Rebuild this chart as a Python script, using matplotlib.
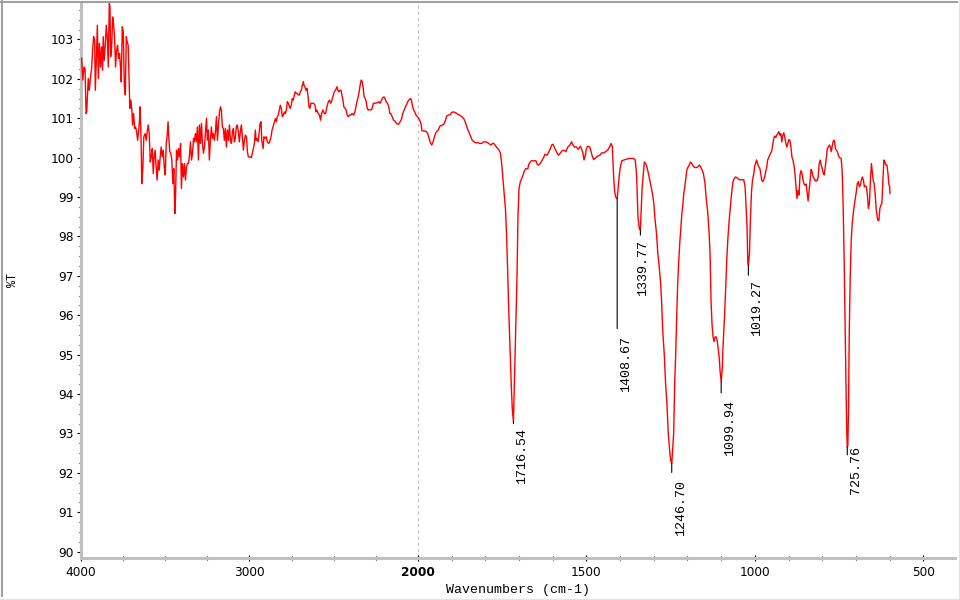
import numpy as np
import matplotlib
matplotlib.use("Agg")
import matplotlib.pyplot as plt
from matplotlib.lines import Line2D

# ---------------- data (wavenumber cm-1, %T) ----------------
wn_a = [3999, 3996, 3990, 3982, 3976, 3970, 3966, 3962, 3957, 3951, 3943, 3937, 3931, 3925, 3919, 3915,
        3909, 3903, 3897, 3891, 3884, 3878, 3872, 3868, 3862, 3856, 3850, 3844, 3838, 3832, 3828, 3824,
        3818, 3812, 3807, 3801, 3795, 3789, 3783, 3777, 3771, 3767, 3761, 3755, 3749, 3743, 3737, 3731,
        3726, 3720, 3714, 3710, 3704, 3698, 3694, 3688, 3682, 3676, 3670, 3664, 3658, 3652, 3649, 3643,
        3639, 3633, 3627, 3619, 3613, 3607, 3601, 3595, 3589, 3583, 3577, 3571, 3566, 3560, 3554, 3548,
        3542, 3536, 3530, 3524, 3518, 3512, 3506, 3500, 3494, 3489, 3483, 3479, 3473, 3467, 3461, 3455,
        3449, 3443, 3439, 3433, 3427, 3421, 3415, 3409, 3404, 3398, 3392, 3386, 3380, 3374, 3368, 3362,
        3356, 3350, 3344, 3338, 3332, 3327, 3321, 3315, 3309, 3303, 3297, 3291, 3285, 3279, 3273, 3267,
        3261, 3255, 3250, 3244, 3238, 3232, 3226, 3220, 3214, 3208, 3202, 3196, 3190, 3184, 3178, 3172,
        3167, 3161, 3155, 3149, 3143, 3137, 3131, 3125, 3119, 3113, 3107, 3101, 3095, 3090, 3084, 3078,
        3072, 3066, 3060, 3054, 3048, 3042, 3036, 3030, 3024, 3018, 3012, 3007]
t_a = [102.52, 102.52, 101.97, 102.30, 102.26, 101.12, 101.16, 101.54, 102.01, 101.71, 102.05, 102.26, 102.73, 103.07, 102.98, 101.71,
       102.47, 103.36, 102.01, 102.90, 102.30, 102.81, 102.22, 103.07, 102.47, 102.85, 103.36, 103.07, 102.30, 103.91, 103.83, 102.56,
       102.81, 103.57, 103.40, 103.07, 102.30, 102.73, 102.85, 102.52, 102.64, 102.39, 101.92, 103.32, 103.19, 101.84, 101.59, 103.07,
       102.94, 102.85, 101.92, 101.25, 101.46, 101.21, 100.83, 101.12, 100.74, 100.78, 100.66, 100.44, 100.66, 101.00, 101.29, 100.36,
       99.34, 99.72, 100.53, 100.61, 100.44, 100.66, 100.83, 100.61, 99.89, 100.02, 100.23, 99.60, 100.02, 100.19, 99.77, 99.43,
       99.94, 99.68, 100.02, 100.27, 100.02, 100.19, 99.77, 99.56, 100.36, 100.53, 100.91, 100.53, 100.15, 100.11, 99.94, 99.34,
       99.72, 98.58, 99.00, 100.19, 99.94, 100.23, 100.02, 100.36, 99.22, 99.85, 99.51, 99.85, 99.43, 99.77, 99.85, 99.85,
       100.06, 100.40, 99.94, 100.11, 100.49, 100.40, 100.61, 100.40, 100.78, 99.94, 100.83, 100.36, 100.87, 100.36, 100.11, 100.27,
       100.66, 101.00, 100.44, 100.70, 99.94, 100.44, 100.78, 100.49, 100.61, 100.44, 100.66, 101.04, 100.44, 100.83, 101.16, 101.29,
       101.21, 100.78, 100.74, 100.44, 100.74, 100.27, 100.70, 100.44, 100.83, 100.44, 100.36, 100.66, 100.74, 100.40, 100.49, 100.78,
       100.83, 100.66, 100.40, 100.66, 100.83, 100.53, 100.19, 100.44, 100.57, 100.53, 100.15, 100.02]

wn_b = [2998, 2989, 2979, 2971, 2965, 2961, 2955, 2949, 2943, 2937, 2931, 2927, 2919, 2914, 2908, 2900,
        2894, 2886, 2880, 2872, 2866, 2860, 2852, 2846, 2840, 2835, 2829, 2823, 2817, 2811, 2805, 2799,
        2793, 2787, 2781, 2775, 2769, 2763, 2758, 2752, 2746, 2740, 2734, 2728, 2722, 2716, 2710, 2704,
        2698, 2692, 2686, 2680, 2677, 2671, 2665, 2659, 2653, 2647, 2641, 2635, 2627, 2619, 2611, 2605,
        2600, 2592, 2584, 2578, 2572, 2564, 2556, 2548, 2540, 2532, 2524, 2519, 2513, 2505, 2497, 2489,
        2481, 2475, 2469, 2463, 2457, 2451, 2445, 2440, 2432, 2426, 2420, 2414, 2406, 2398, 2390, 2382,
        2374, 2368, 2362, 2355, 2349, 2343, 2337, 2331, 2325, 2319, 2313, 2307, 2301, 2295, 2287, 2280,
        2272, 2264, 2256, 2248, 2240, 2232, 2224, 2216, 2208, 2201, 2195, 2189, 2181, 2173, 2167, 2161,
        2153, 2145, 2137, 2130, 2122, 2114, 2106, 2098, 2090, 2082, 2074, 2066, 2058, 2050, 2045, 2039,
        2033, 2027, 2019, 2011, 2003]
t_b = [100.02, 100.00, 100.19, 100.36, 100.70, 100.44, 100.49, 100.40, 100.61, 100.87, 100.91, 100.44, 100.23, 100.53, 100.49, 100.53,
       100.40, 100.36, 100.40, 100.53, 100.70, 100.78, 100.91, 100.99, 100.91, 101.04, 101.08, 101.21, 101.33, 101.25, 101.04, 101.08,
       101.16, 101.12, 101.21, 101.42, 101.38, 101.29, 101.25, 101.33, 101.50, 101.46, 101.59, 101.67, 101.63, 101.63, 101.59, 101.59,
       101.67, 101.71, 101.84, 101.93, 101.84, 101.80, 101.71, 101.76, 101.59, 101.29, 101.25, 101.38, 101.38, 101.38, 101.33, 101.16,
       101.21, 101.12, 101.08, 100.95, 101.12, 101.21, 101.12, 101.12, 101.29, 101.42, 101.46, 101.38, 101.42, 101.54, 101.67, 101.71,
       101.80, 101.71, 101.67, 101.71, 101.71, 101.59, 101.46, 101.29, 101.25, 101.21, 101.08, 101.04, 101.08, 101.08, 101.12, 101.08,
       101.16, 101.29, 101.42, 101.54, 101.67, 101.84, 101.97, 101.93, 101.76, 101.54, 101.50, 101.42, 101.25, 101.21, 101.22, 101.21,
       101.25, 101.38, 101.38, 101.39, 101.39, 101.42, 101.38, 101.46, 101.53, 101.54, 101.50, 101.42, 101.38, 101.29, 101.12, 101.12,
       101.04, 100.95, 100.93, 100.88, 100.85, 100.85, 100.91, 100.97, 101.12, 101.21, 101.29, 101.36, 101.44, 101.48, 101.50, 101.46,
       101.33, 101.22, 101.16, 101.08, 101.04]

wn_c = [1998, 1995, 1991, 1988, 1981, 1975, 1971, 1967, 1963, 1959, 1955, 1951, 1947, 1943, 1939, 1935,
        1929, 1923, 1919, 1915, 1910, 1904, 1900, 1894, 1888, 1882, 1876, 1870, 1864, 1860, 1856, 1852,
        1848, 1844, 1840, 1834, 1828, 1822, 1817, 1811, 1805, 1799, 1793, 1787, 1783, 1779, 1775, 1771,
        1767, 1763, 1759, 1755, 1751, 1745, 1740, 1737, 1734, 1731, 1728, 1725, 1723, 1720, 1716.54, 1715,
        1712, 1709, 1706, 1703, 1700, 1696, 1690, 1684, 1680, 1674, 1670, 1664, 1656, 1650, 1646, 1642,
        1637, 1631, 1627, 1623, 1617, 1613, 1607, 1603, 1599, 1595, 1589, 1583, 1577, 1573, 1567, 1561,
        1555, 1549, 1544, 1540, 1536, 1530, 1524, 1518, 1514, 1510, 1507, 1504, 1500, 1496, 1490, 1486,
        1482, 1478, 1472, 1466, 1460, 1455, 1449, 1443, 1437, 1431, 1427, 1423, 1419, 1416, 1413, 1408.67,
        1406, 1403, 1400, 1397, 1395, 1389, 1381, 1373, 1366, 1360, 1355, 1351, 1347, 1343, 1339.77, 1337,
        1335, 1332]
t_c = [101.00, 100.95, 100.87, 100.68, 100.68, 100.66, 100.61, 100.49, 100.38, 100.32, 100.40, 100.53, 100.63, 100.67, 100.71, 100.80,
       100.82, 100.85, 100.93, 101.05, 101.08, 101.09, 101.15, 101.16, 101.14, 101.10, 101.08, 101.04, 100.99, 100.91, 100.82, 100.71,
       100.63, 100.55, 100.46, 100.40, 100.38, 100.38, 100.36, 100.36, 100.40, 100.40, 100.38, 100.34, 100.32, 100.36, 100.36, 100.32,
       100.27, 100.23, 100.19, 100.11, 99.80, 99.17, 98.67, 98.03, 97.23, 96.26, 95.50, 94.82, 94.23, 93.63, 93.30, 93.84,
       94.86, 95.96, 96.98, 98.54, 99.22, 99.39, 99.51, 99.67, 99.72, 99.72, 99.85, 99.92, 99.92, 99.92, 99.83, 99.81,
       99.85, 99.94, 100.00, 100.09, 100.06, 100.12, 100.23, 100.32, 100.34, 100.26, 100.15, 100.06, 100.12, 100.17, 100.19, 100.15,
       100.27, 100.32, 100.40, 100.33, 100.27, 100.27, 100.21, 100.29, 100.21, 100.11, 99.94, 100.02, 100.23, 100.29, 100.27, 100.15,
       100.02, 99.95, 100.00, 100.04, 100.06, 100.12, 100.12, 100.15, 100.19, 100.27, 100.36, 100.28, 99.47, 99.13, 99.00, 98.96,
       99.20, 99.50, 99.72, 99.85, 99.92, 99.94, 99.96, 99.98, 99.98, 99.98, 99.94, 99.56, 98.50, 98.20, 98.16, 98.75,
       99.17, 99.50]

wn_d = [1328, 1324, 1320, 1316, 1312, 1308, 1304, 1300, 1296, 1292, 1288, 1284, 1280, 1277, 1273, 1269,
        1265, 1261, 1257, 1253, 1250, 1246.70, 1244, 1241, 1238, 1235, 1232, 1229, 1226, 1223, 1220, 1217,
        1214, 1211, 1208, 1205, 1202, 1199, 1195, 1191, 1187, 1183, 1178, 1172, 1168, 1164, 1160, 1156,
        1152, 1148, 1144, 1140, 1136, 1133, 1130, 1127, 1124, 1121, 1118, 1115, 1112, 1109, 1106, 1103,
        1099.94, 1097, 1095, 1092, 1089, 1086, 1083, 1080, 1077, 1074, 1071, 1068, 1065, 1061, 1057, 1053,
        1049, 1045, 1041, 1037, 1033, 1029, 1026, 1023, 1021, 1019.27, 1016, 1013, 1010, 1007, 1003, 1001,
        998, 995, 992, 989, 986, 983, 980, 977, 974, 971, 968, 965, 962, 959, 956, 953]
t_d = [99.89, 99.85, 99.75, 99.60, 99.43, 99.26, 99.09, 98.84, 98.41, 98.08, 97.57, 97.23, 96.85, 96.38, 95.54, 95.03,
       94.27, 93.76, 93.00, 92.58, 92.32, 92.24, 92.58, 93.00, 94.27, 94.99, 95.96, 96.81, 97.36, 97.82, 98.20, 98.54,
       98.79, 99.09, 99.26, 99.47, 99.68, 99.75, 99.81, 99.89, 99.85, 99.78, 99.75, 99.75, 99.78, 99.81, 99.75, 99.68,
       99.56, 99.34, 98.92, 98.63, 98.12, 97.57, 96.34, 95.75, 95.45, 95.33, 95.45, 95.45, 95.37, 95.16, 94.94, 94.56,
       94.31, 94.61, 95.11, 95.62, 96.17, 96.85, 97.48, 97.95, 98.33, 98.63, 98.92, 99.17, 99.39, 99.47, 99.51, 99.49,
       99.46, 99.44, 99.44, 99.44, 99.44, 99.26, 98.75, 98.16, 97.36, 97.27, 97.57, 98.50, 99.13, 99.43, 99.60, 99.77,
       99.85, 99.94, 99.85, 99.77, 99.75, 99.64, 99.44, 99.39, 99.43, 99.51, 99.64, 99.75, 99.94, 100.00, 100.06, 100.12]

wn_e = [950, 947, 944, 941, 938, 935, 932, 929, 926, 923, 920, 917, 914, 911, 908, 905,
        902, 899, 896, 893, 890, 887, 884, 881, 878, 875, 872, 869, 866, 863, 860, 857,
        854, 851, 848, 845, 842, 839, 836, 833, 830, 827, 824, 821, 818, 815, 812, 809,
        806, 803, 800, 797, 794, 791, 788, 785, 782, 779, 776, 773, 770, 767, 764, 761,
        758, 755, 752, 749, 744, 741, 738, 735, 732, 729, 727, 725.76, 724, 722, 720, 717,
        714, 711, 708, 705, 702, 699, 696, 693, 690, 687, 684, 681, 678, 675, 672, 669,
        666, 663, 660, 657, 654, 652, 649, 646, 643, 640, 637, 635, 632, 629, 626, 623,
        620, 617, 614, 611, 608, 605, 602, 600, 599]
t_e = [100.17, 100.32, 100.49, 100.55, 100.51, 100.57, 100.61, 100.66, 100.57, 100.61, 100.40, 100.57, 100.63, 100.51, 100.36, 100.27,
       100.36, 100.46, 100.44, 100.27, 100.02, 99.94, 99.81, 99.60, 99.28, 98.96, 99.17, 99.05, 99.56, 99.67, 99.60, 99.43,
       99.33, 99.30, 99.33, 99.13, 98.90, 99.17, 99.43, 99.70, 99.64, 99.51, 99.47, 99.41, 99.43, 99.41, 99.51, 99.85,
       99.94, 99.81, 99.72, 99.60, 99.56, 99.77, 99.98, 100.23, 100.27, 100.32, 100.27, 100.15, 100.32, 100.43, 100.44, 100.23,
       100.19, 100.15, 100.06, 100.00, 99.98, 99.68, 98.79, 97.40, 95.66, 93.93, 93.00, 92.66, 92.70, 93.63, 95.45, 96.98,
       97.91, 98.33, 98.58, 98.79, 98.96, 99.13, 99.34, 99.39, 99.26, 99.30, 99.43, 99.51, 99.43, 99.26, 99.28, 99.26,
       99.05, 98.71, 98.84, 99.43, 99.85, 99.68, 99.43, 99.34, 99.09, 98.71, 98.50, 98.41, 98.41, 98.71, 98.79, 98.84,
       99.43, 99.94, 99.89, 99.81, 99.81, 99.60, 99.30, 99.28, 99.09]

peak_wn = [1716.54, 1408.67, 1339.77, 1246.70, 1099.94, 1019.27, 725.76]
peak_t = [93.30, 98.96, 98.16, 92.24, 94.31, 97.27, 92.66]
peak_labels = ["1716.54", "1408.67", "1339.77", "1246.70", "1099.94", "1019.27", "725.76"]

x_major = [4000, 3000, 2000, 1500, 1000, 500]
x_major_labels = ["4000", "3000", "2000", "1500", "1000", "500"]

wn = np.array(wn_a + wn_b + wn_c + wn_d + wn_e, dtype=float)
tr = np.array(t_a + t_b + t_c + t_d + t_e, dtype=float)

# ---------------- piecewise x scale (2x expansion below 2000 cm-1) ----------------
def fwd(x):
    x = np.asarray(x, dtype=float)
    return np.where(x >= 2000, x, 2 * x - 2000)

def inv(u):
    u = np.asarray(u, dtype=float)
    return np.where(u >= 2000, u, (u + 2000) / 2)

W, H = 960, 600
fig = plt.figure(figsize=(W / 100, H / 100), dpi=100)
fig.patch.set_facecolor("white")
ax = fig.add_axes([81 / W, 42 / H, (955 - 81) / W, (598 - 42) / H])
ax.set_xscale("function", functions=(fwd, inv))
ax.set_xlim(4000, 406)
ax.set_ylim(89.84, 103.95)

ax.axvline(2000, color="#c0c0c0", lw=0.75, ls=(0, (3, 3)), zorder=1)
ax.plot(wn, tr, color="#ff0000", lw=1.0, zorder=3)

# spines
for s in ("top", "right"):
    ax.spines[s].set_visible(False)
for s in ("left", "bottom"):
    ax.spines[s].set_color("#c0c0c0")
    ax.spines[s].set_linewidth(2.2)
    ax.spines[s].set_zorder(2)

# ticks
ax.set_xticks(x_major)
ax.set_xticklabels(x_major_labels)
minor_x = [v for v in list(range(3750, 2000, -250)) + list(range(1900, 400, -100))
           if v not in x_major]
ax.set_xticks(minor_x, minor=True)
ax.set_yticks(range(90, 104))
ax.set_yticks([v / 4 for v in range(360, 416) if v % 4 != 0], minor=True)

ax.tick_params(axis="y", which="major", direction="out", length=3.0, width=0.8,
               color="black", labelsize=8.7, pad=2.0)
ax.tick_params(axis="y", which="minor", direction="out", length=1.6, width=0.8, color="black")
ax.tick_params(axis="x", which="major", direction="inout", length=4.0, width=0.8,
               color="black", labelsize=8.7, pad=3.5)
ax.tick_params(axis="x", which="minor", direction="inout", length=2.6, width=0.8, color="black")
for lab in ax.get_xticklabels():
    if lab.get_text() == "2000":
        lab.set_fontweight("bold")

# peak annotations (layout: marker-line length and text offset, in pixels)
line_len = [2, 130, 5, 9, 11, 10, 8]
text_off = [(9, -6), (9, -137), (3, -10), (9, -17), (9, -18), (9, -15), (9, 1)]
for w, t, lab, L, (dx, dy) in zip(peak_wn, peak_t, peak_labels, line_len, text_off):
    ax.annotate("", xy=(w, t), xytext=(0, -L), textcoords="offset pixels",
                arrowprops=dict(arrowstyle="-", color="black", lw=0.8, shrinkA=0, shrinkB=0),
                zorder=4)
    ax.annotate(lab, xy=(w, t), xytext=(dx, dy), textcoords="offset pixels",
                rotation=90, ha="center", va="top", fontsize=9.6,
                family="Liberation Mono", color="black", zorder=5)

fig.text(518 / W, 1 - 590 / H, "Wavenumbers (cm-1)", ha="center", va="center",
         family="Liberation Mono", fontsize=9.5)
fig.text(12.5 / W, 1 - 280 / H, "%T", rotation=90, ha="center", va="center",
         family="Liberation Mono", fontsize=8.5)

# window frame
fig.add_artist(Line2D([1.5 / W, 1.5 / W], [1 - 1 / H, 1 - 596 / H], color="#a0a0a0", lw=1.5))
fig.add_artist(Line2D([0, 957 / W], [1 - 1.5 / H, 1 - 1.5 / H], color="#a0a0a0", lw=1.5))
fig.add_artist(Line2D([958.5 / W, 958.5 / W], [1, 0], color="#e4e4e4", lw=1.0))
fig.add_artist(Line2D([0, 1], [1 - 598.5 / H, 1 - 598.5 / H], color="#e4e4e4", lw=1.0))

fig.savefig("out.png", dpi=100)
